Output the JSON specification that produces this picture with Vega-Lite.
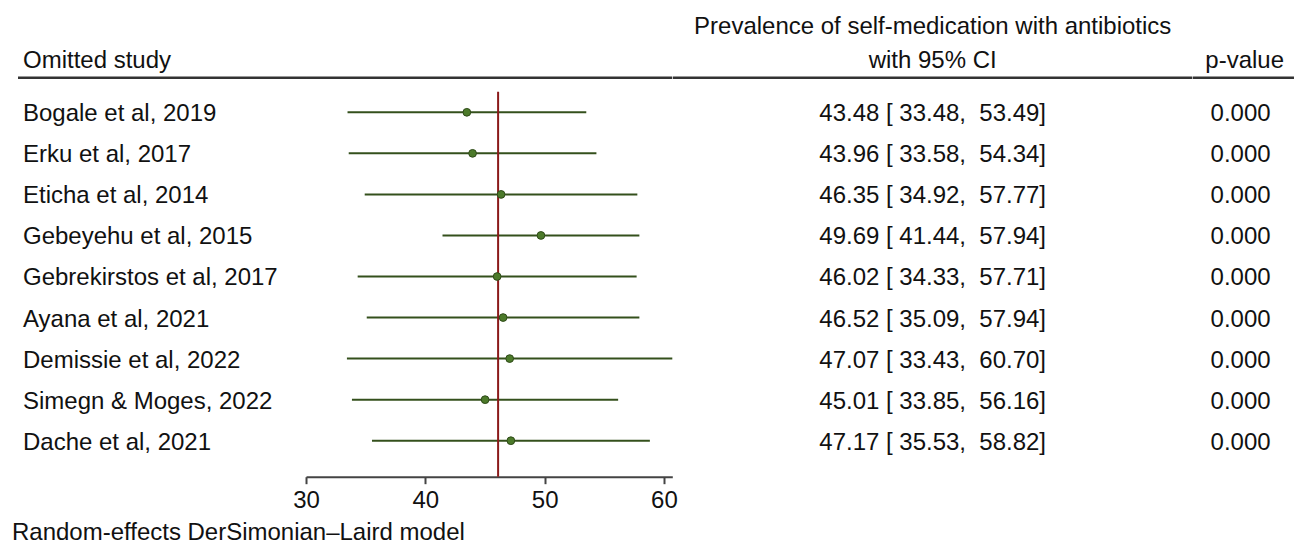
{
  "$schema": "https://vega.github.io/schema/vega-lite/v6.json",
  "padding": 0,
  "background": "white",
  "bounds": "flush",
  "spacing": 0,
  "config": {
    "view": {"stroke": null},
    "font": "Liberation Sans",
    "text": {"font": "Liberation Sans"},
    "axis": {"labelFont": "Liberation Sans"}
  },
  "datasets": {
    "studies": [
      {"order": 0, "study": "Bogale et al, 2019", "estimate": 43.48, "lower": 33.48, "upper": 53.49, "ci": "43.48 [ 33.48, \u00a053.49]", "p": "0.000"},
      {"order": 1, "study": "Erku et al, 2017", "estimate": 43.96, "lower": 33.58, "upper": 54.34, "ci": "43.96 [ 33.58, \u00a054.34]", "p": "0.000"},
      {"order": 2, "study": "Eticha et al, 2014", "estimate": 46.35, "lower": 34.92, "upper": 57.77, "ci": "46.35 [ 34.92, \u00a057.77]", "p": "0.000"},
      {"order": 3, "study": "Gebeyehu et al, 2015", "estimate": 49.69, "lower": 41.44, "upper": 57.94, "ci": "49.69 [ 41.44, \u00a057.94]", "p": "0.000"},
      {"order": 4, "study": "Gebrekirstos et al, 2017", "estimate": 46.02, "lower": 34.33, "upper": 57.71, "ci": "46.02 [ 34.33, \u00a057.71]", "p": "0.000"},
      {"order": 5, "study": "Ayana et al, 2021", "estimate": 46.52, "lower": 35.09, "upper": 57.94, "ci": "46.52 [ 35.09, \u00a057.94]", "p": "0.000"},
      {"order": 6, "study": "Demissie et al, 2022", "estimate": 47.07, "lower": 33.43, "upper": 60.70, "ci": "47.07 [ 33.43, \u00a060.70]", "p": "0.000"},
      {"order": 7, "study": "Simegn & Moges, 2022", "estimate": 45.01, "lower": 33.85, "upper": 56.16, "ci": "45.01 [ 33.85, \u00a056.16]", "p": "0.000"},
      {"order": 8, "study": "Dache et al, 2021", "estimate": 47.17, "lower": 35.53, "upper": 58.82, "ci": "47.17 [ 35.53, \u00a058.82]", "p": "0.000"}
    ]
  },
  "hconcat": [
    {
      "width": 306,
      "height": 476.7,
      "layer": [
        {
          "data": {"name": "studies"},
          "mark": {"type": "text", "align": "left", "baseline": "middle", "dy": 2, "fontSize": 24, "color": "#111"},
          "encoding": {
            "y": {"field": "order", "type": "quantitative", "scale": {"domain": [-2.736, 8.877], "reverse": true, "nice": false, "zero": false}, "axis": null},
            "x": {"value": 23},
            "text": {"field": "study"}
          }
        },
        {
          "data": {"values": [{}]},
          "mark": {"type": "text", "align": "left", "baseline": "alphabetic", "fontSize": 24, "color": "#111"},
          "encoding": {
            "y": {"datum": -1.087, "type": "quantitative", "scale": {"domain": [-2.736, 8.877], "reverse": true, "nice": false, "zero": false}},
            "x": {"value": 23},
            "text": {"value": "Omitted study"}
          }
        },
        {
          "data": {"values": [{}]},
          "mark": {"type": "rule", "strokeWidth": 2.5, "color": "#333"},
          "encoding": {
            "y": {"datum": -0.843, "type": "quantitative", "scale": {"domain": [-2.736, 8.877], "reverse": true, "nice": false, "zero": false}},
            "x": {"value": 18},
            "x2": {"value": 306}
          }
        },
        {
          "data": {"values": [{}]},
          "mark": {"type": "text", "align": "left", "baseline": "alphabetic", "fontSize": 24, "color": "#111"},
          "encoding": {
            "y": {"datum": 10.419, "type": "quantitative", "scale": {"domain": [-2.736, 8.877], "reverse": true, "nice": false, "zero": false}},
            "x": {"value": 12},
            "text": {"value": "Random-effects DerSimonian\u2013Laird model"}
          }
        }
      ]
    },
    {
      "width": 366.3,
      "height": 476.7,
      "layer": [
        {
          "data": {"name": "studies"},
          "mark": {"type": "rule", "strokeWidth": 2, "color": "#34501c"},
          "encoding": {
            "y": {"field": "order", "type": "quantitative", "scale": {"domain": [-2.736, 8.877], "reverse": true, "nice": false, "zero": false}, "axis": null},
            "x": {
              "field": "lower", "type": "quantitative",
              "scale": {"domain": [30, 60.7], "nice": false, "zero": false},
              "axis": {
                "values": [30, 40, 50, 60], "title": null, "grid": false,
                "domainColor": "#444", "domainWidth": 2, "tickColor": "#444", "tickWidth": 2, "tickSize": 7,
                "labelFontSize": 24, "labelColor": "#111", "labelPadding": 5, "labelFlush": false, "labelOverlap": false
              }
            },
            "x2": {"field": "upper"}
          }
        },
        {
          "data": {"values": [{}]},
          "mark": {"type": "rule", "strokeWidth": 2, "color": "#8b1a1a"},
          "encoding": {
            "x": {"datum": 46.1, "type": "quantitative"},
            "y": {"datum": -0.5, "type": "quantitative", "scale": {"domain": [-2.736, 8.877], "reverse": true, "nice": false, "zero": false}},
            "y2": {"datum": 8.877}
          }
        },
        {
          "data": {"name": "studies"},
          "mark": {"type": "point", "filled": true, "size": 60, "color": "#4c7a2a", "stroke": "#2e4a18", "strokeWidth": 1, "opacity": 1},
          "encoding": {
            "y": {"field": "order", "type": "quantitative", "scale": {"domain": [-2.736, 8.877], "reverse": true, "nice": false, "zero": false}},
            "x": {"field": "estimate", "type": "quantitative"}
          }
        },
        {
          "data": {"values": [{}]},
          "mark": {"type": "rule", "strokeWidth": 2.5, "color": "#333"},
          "encoding": {
            "y": {"datum": -0.843, "type": "quantitative", "scale": {"domain": [-2.736, 8.877], "reverse": true, "nice": false, "zero": false}}
          }
        }
      ]
    },
    {
      "width": 519.4,
      "height": 476.7,
      "layer": [
        {
          "data": {"name": "studies"},
          "mark": {"type": "text", "align": "center", "baseline": "middle", "dy": 2, "fontSize": 24, "color": "#111"},
          "encoding": {
            "y": {"field": "order", "type": "quantitative", "scale": {"domain": [-2.736, 8.877], "reverse": true, "nice": false, "zero": false}, "axis": null},
            "text": {"field": "ci"}
          }
        },
        {
          "data": {"values": [{}]},
          "mark": {"type": "text", "align": "center", "baseline": "alphabetic", "fontSize": 24, "color": "#111"},
          "encoding": {
            "y": {"datum": -1.9, "type": "quantitative", "scale": {"domain": [-2.736, 8.877], "reverse": true, "nice": false, "zero": false}},
            "text": {"value": "Prevalence of self-medication with antibiotics"}
          }
        },
        {
          "data": {"values": [{}]},
          "mark": {"type": "text", "align": "center", "baseline": "alphabetic", "fontSize": 24, "color": "#111"},
          "encoding": {
            "y": {"datum": -1.087, "type": "quantitative", "scale": {"domain": [-2.736, 8.877], "reverse": true, "nice": false, "zero": false}},
            "text": {"value": "with 95% CI"}
          }
        },
        {
          "data": {"values": [{}]},
          "mark": {"type": "rule", "strokeWidth": 2.5, "color": "#333"},
          "encoding": {
            "y": {"datum": -0.843, "type": "quantitative", "scale": {"domain": [-2.736, 8.877], "reverse": true, "nice": false, "zero": false}}
          }
        }
      ]
    },
    {
      "width": 103.3,
      "height": 476.7,
      "layer": [
        {
          "data": {"name": "studies"},
          "mark": {"type": "text", "align": "center", "baseline": "middle", "dy": 2, "dx": -4, "fontSize": 24, "color": "#111"},
          "encoding": {
            "y": {"field": "order", "type": "quantitative", "scale": {"domain": [-2.736, 8.877], "reverse": true, "nice": false, "zero": false}, "axis": null},
            "text": {"field": "p"}
          }
        },
        {
          "data": {"values": [{}]},
          "mark": {"type": "text", "align": "center", "baseline": "alphabetic", "fontSize": 24, "color": "#111"},
          "encoding": {
            "y": {"datum": -1.087, "type": "quantitative", "scale": {"domain": [-2.736, 8.877], "reverse": true, "nice": false, "zero": false}},
            "text": {"value": "p-value"}
          }
        },
        {
          "data": {"values": [{}]},
          "mark": {"type": "rule", "strokeWidth": 2.5, "color": "#333"},
          "encoding": {
            "y": {"datum": -0.843, "type": "quantitative", "scale": {"domain": [-2.736, 8.877], "reverse": true, "nice": false, "zero": false}},
            "x": {"value": 0},
            "x2": {"value": 101}
          }
        }
      ]
    }
  ]
}
